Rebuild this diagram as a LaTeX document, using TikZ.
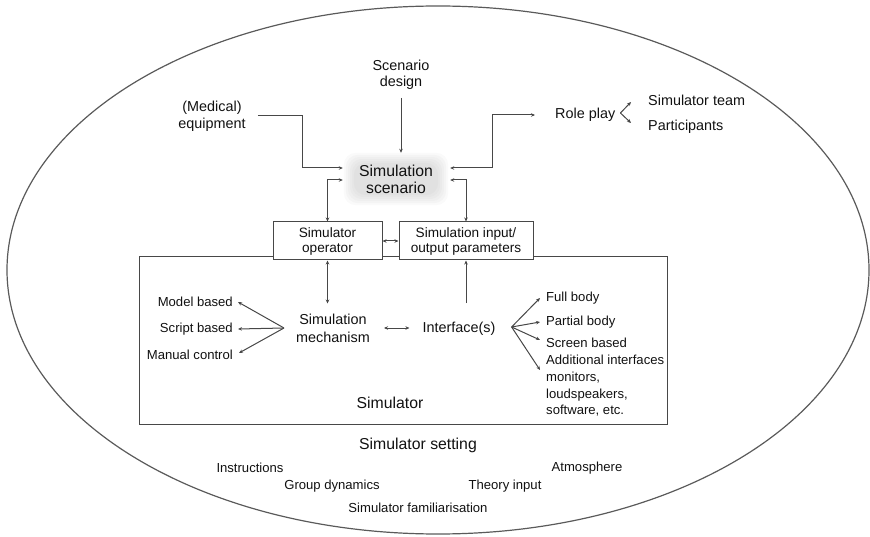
\documentclass[tikz,border=0pt]{standalone}
\usepackage{fontspec}
\setmainfont{Liberation Sans}
\usetikzlibrary{arrows.meta,backgrounds}

\definecolor{ink}{HTML}{111111}
\definecolor{wire}{HTML}{474747}
\definecolor{rim}{HTML}{5a5a5a}

\tikzset{
  txt/.style={inner sep=0pt, text=ink, align=center, font=\fontsize{13.1}{16.7}\selectfont},
  midtxt/.style={txt, font=\fontsize{14.4}{17}\selectfont},
  bigtxt/.style={txt, font=\fontsize{15.8}{18}\selectfont},
  boxtxt/.style={draw=wire, line width=1pt, fill=white, align=center, text=ink,
                 font=\fontsize{13.6}{15}\selectfont},
  arr/.style={draw=wire, line width=1pt, -{Stealth[length=4pt,width=3.5pt]}},
  dbl/.style={draw=wire, line width=1pt, {Stealth[length=4pt,width=3.5pt]}-{Stealth[length=4pt,width=3.5pt]}}
}

\begin{document}
\begin{tikzpicture}[x=1pt, y=-1pt]
\useasboundingbox (0,0) rectangle (870,537);

% outer setting ellipse
\draw[rim, line width=1.2pt] (438,270) ellipse [x radius=431, y radius=264];

% simulator frame
\node[draw=wire, line width=1pt, minimum width=528pt, minimum height=167pt, inner sep=0pt] (simbox) at (403,340.5) {};
\node[bigtxt] (simlbl) at (390,403) {Simulator};

% scenario block with a soft grey patch
\node[bigtxt, minimum width=104pt, minimum height=52pt] (scen) at (396,179) {Simulation\\[-1pt]scenario};
\begin{scope}[on background layer]
  \foreach \d in {0,2,...,10}
    \fill[gray, opacity=0.045, rounded corners=12pt]
      ([shift={(\d pt,-\d pt)}]scen.north west) rectangle ([shift={(-\d pt,\d pt)}]scen.south east);
\end{scope}

\node[midtxt] (sd) at (401,75) {Scenario\\[-1pt]design};
\node[midtxt] (equip) at (212,116) {(Medical)\\equipment};
\node[midtxt, anchor=west] (rp) at (555,115) {Role play};
\node[midtxt, anchor=west] (st) at (648,100) {Simulator team};
\node[midtxt, anchor=west] (pa) at (648,127) {Participants};

% operator and parameter boxes
\node[boxtxt, minimum width=109pt, minimum height=38pt, inner sep=0pt] (op) at (327.5,241) {Simulator\\operator};
\node[boxtxt, minimum width=134pt, minimum height=38pt, inner sep=0pt] (io) at (466,241) {Simulation input/\\output parameters};

% inside the simulator
\node[midtxt] (mech) at (333,328) {Simulation\\[1pt]mechanism};
\node[midtxt] (iface) at (459,329) {Interface(s)};

\node[txt, anchor=east] (mb) at (233,302) {Model based};
\node[txt, anchor=east] (sb) at (233,329) {Script based};
\node[txt, anchor=east] (mc) at (233,355) {Manual control};

\node[txt, anchor=west] (fb) at (546,298) {Full body};
\node[txt, anchor=west] (pb) at (546,322) {Partial body};
\node[txt, anchor=west] (scb) at (546,343) {Screen based};
\node[txt, anchor=north west, align=left] (ai) at (546,355) {Additional interfaces\\monitors,\\loudspeakers,\\software, etc.};

% setting factors
\node[bigtxt] (set) at (418,445) {Simulator setting};
\node[txt] (ins) at (250,468) {Instructions};
\node[txt] (atm) at (587,468) {Atmosphere};
\node[txt] (grp) at (332,486) {Group dynamics};
\node[txt] (thy) at (505,486) {Theory input};
\node[txt] (fam) at (418,508) {Simulator familiarisation};

% connectors around the scenario
\draw[arr] ([yshift=-8pt]sd.south) -- (sd.south |- scen.north);
\draw[arr] ([xshift=12pt]equip.east) -- ++(45,0) |- ([xshift=-1pt,yshift=11pt]scen.west);
\draw[dbl] (op.north) |- ([xshift=-1pt,yshift=-1pt]scen.west);
\draw[dbl] ([xshift=2pt,yshift=11pt]scen.east) -- ++(42,0) |- ([xshift=-20pt]rp.west);
\draw[dbl] (io.north) |- ([xshift=2pt,yshift=-1pt]scen.east);

% role play split
\coordinate (rpf) at ([xshift=5pt,yshift=2pt]rp.east);
\draw[arr] (rpf) -- ([xshift=-17pt,yshift=-2pt]st.west);
\draw[arr] (rpf) -- ([xshift=-17pt,yshift=4pt]pa.west);

% box to box
\draw[dbl] (op.east) -- (io.west);

% simulator internals
\draw[dbl, shorten >=10pt] (op.south) -- (op.south |- mech.north);
\draw[arr, shorten <=19pt] (io.south |- iface.north) -- (io.south);
\draw[dbl, shorten <=14pt, shorten >=13pt] (mech.east) -- (mech.east -| iface.west);

\coordinate (lf) at ([xshift=-12pt]mech.west);
\draw[arr] (lf) -- ([xshift=5pt]mb.east);
\draw[arr] (lf) -- ([xshift=5pt]sb.east);
\draw[arr] (lf) -- ([xshift=6pt,yshift=2pt]mc.east);

\coordinate (rf) at ([xshift=16pt,yshift=2pt]iface.east);
\draw[arr] (rf) -- ([xshift=-6pt]fb.west);
\draw[arr] (rf) -- ([xshift=-6pt]pb.west);
\draw[arr] (rf) -- ([xshift=-6pt,yshift=3pt]scb.west);
\draw[arr] (rf) -- ([xshift=-6pt,yshift=-15pt]ai.north west);
\end{tikzpicture}
\end{document}
